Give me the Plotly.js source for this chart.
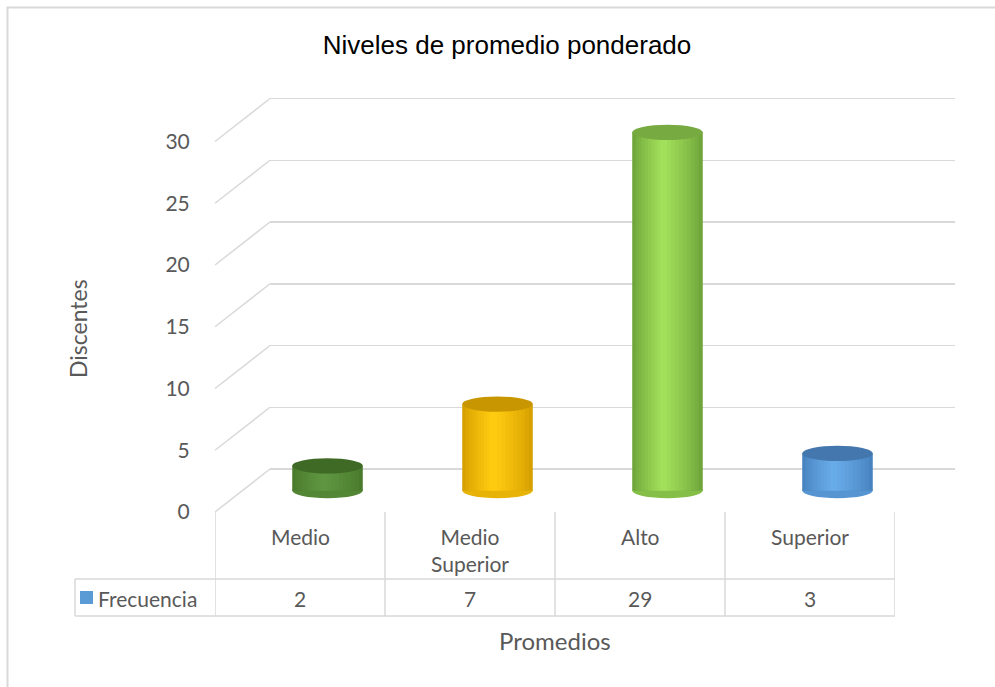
<!DOCTYPE html>
<html>
<head>
<meta charset="utf-8">
<script src="https://cdn.plot.ly/plotly-3.0.1.min.js"></script>
<style>html,body{margin:0;padding:0;background:#fff;}#chart{width:995px;height:687px;}</style>
</head>
<body>
<div id="chart"></div>
<script>
// ---- data ----
const categories = ['Medio', 'Medio Superior', 'Alto', 'Superior'];
const categoryLabels = ['Medio', 'Medio<br>Superior', 'Alto', 'Superior'];
const frecuencia = [2, 7, 29, 3];
const yTicks = [0, 5, 10, 15, 20, 25, 30];
const seriesName = 'Frecuencia';
const chartTitle = 'Niveles de promedio ponderado';
const xTitle = 'Promedios';
const yTitle = 'Discentes';

// ---- styles ----
const edgeColors = ['#4a7a2b', '#d6a000', '#6fa53a', '#4783bf'];
const lightColors = ['#5f9541', '#ffcb10', '#a2df5a', '#68abe9'];
const topColors = ['#3f6a25', '#c89600', '#77aa40', '#4377ad'];
const legendColor = '#5b9bd5';
const textColor = '#595959';
const gridColor = '#d9d9d9';
const FONT = 'Lato, "Open Sans", sans-serif';

// ---- geometry (pixels) ----
const W = 995, H = 687;
const S = 12.35;              // px per unit
const FRONT = {x0: 215, x1: 895, y0: 512};
const BACK = {x0: 270, x1: 955, y0: 469};
const MID = {x0: 242.5, x1: 922.5, y0: 490.5};
const RANGE = [-1, 31];
const fx = px => px / W;
const fy = py => 1 - py / H;
const ydom = p => [fy(p.y0 - RANGE[0] * S), fy(p.y0 - RANGE[1] * S)];
const xdom = p => [fx(p.x0), fx(p.x1)];
const pyOf = (p, v) => p.y0 - v * S;

// ---- helpers ----
function hex2rgb(h){return [1,3,5].map(i=>parseInt(h.substr(i,2),16));}
function mix(a,b,t){const A=hex2rgb(a),B=hex2rgb(b);return 'rgb('+A.map((v,i)=>Math.round(v+(B[i]-v)*t)).join(',')+')';}

const BW = 0.415;
const L0 = -BW/2, R0 = BW/2, HL = -0.025;
const N = 10;
const traces = [];
traces.push({type:'scatter', x:[], y:[], xaxis:'x', yaxis:'y', showlegend:false, hoverinfo:'skip'});
for (let i = 0; i < N; i++) {
  const L = L0 + (HL - L0) * i / N;
  const R = R0 - (R0 - HL) * i / N;
  const t = Math.pow(i / (N - 1), 0.8);
  traces.push({
    type:'bar', x: categories, y: frecuencia, xaxis:'x2', yaxis:'y2',
    width: R - L, offset: L,
    marker:{color: categories.map((c,k)=>mix(edgeColors[k], lightColors[k], t)), line:{width:0}},
    showlegend:false, hoverinfo: i===0 ? 'x+y' : 'skip', name: seriesName
  });
}
traces.push({type:'scatter', x:[], y:[], xaxis:'x3', yaxis:'y3', showlegend:false, hoverinfo:'skip'});

const shapes = [];
// outer chart border
shapes.push({type:'rect', xref:'paper', yref:'paper', x0:fx(7.5), x1:fx(1100), y0:fy(800), y1:fy(7.5), line:{color:gridColor, width:2}, fillcolor:'rgba(0,0,0,0)', layer:'below'});
// side wall diagonals
yTicks.forEach(v => {
  shapes.push({type:'line', xref:'paper', yref:'paper', x0:fx(FRONT.x0), y0:fy(pyOf(FRONT, v)), x1:fx(BACK.x0), y1:fy(pyOf(BACK, v)), line:{color:gridColor, width:1.5}, layer:'below'});
});
// cylinder ends
const E = 0.62;
frecuencia.forEach((v, k) => {
  shapes.push({type:'circle', xref:'x2', yref:'y2', x0:k+L0, x1:k+R0, y0:-E, y1:E, fillcolor:mix(edgeColors[k], lightColors[k], 0.45), line:{width:0}, layer:'below'});
  shapes.push({type:'circle', xref:'x2', yref:'y2', x0:k+L0, x1:k+R0, y0:v-E, y1:v+E, fillcolor:topColors[k], line:{width:0}, layer:'above'});
});
// data table
const tTop = 512, tRow = 579, tBot = 616, tLeft = 75;
for (let i = 0; i <= categories.length; i++) {
  shapes.push({type:'line', xref:'x3', yref:'paper', x0:i-0.5, x1:i-0.5, y0:fy(tTop), y1:fy(tBot), line:{color:gridColor, width:1.5}});
}
[tRow, tBot].forEach(py => shapes.push({type:'line', xref:'paper', yref:'paper', x0:fx(tLeft), x1:fx(FRONT.x1), y0:fy(py), y1:fy(py), line:{color:gridColor, width:1.5}}));
shapes.push({type:'line', xref:'paper', yref:'paper', x0:fx(tLeft), x1:fx(tLeft), y0:fy(tRow), y1:fy(tBot), line:{color:gridColor, width:1.5}});
shapes.push({type:'rect', xref:'paper', yref:'paper', x0:fx(80), x1:fx(93), y0:fy(604), y1:fy(591), fillcolor:legendColor, line:{width:0}});

const annotations = [];
categoryLabels.forEach((c, i) => annotations.push({xref:'x3', yref:'paper', x:i, y:fy(522), text:c, showarrow:false, yanchor:'top', xanchor:'center', font:{family:FONT, size:21, color:textColor}}));
frecuencia.forEach((v, i) => annotations.push({xref:'x3', yref:'paper', x:i, y:fy(598), text:String(v), showarrow:false, yanchor:'middle', font:{family:FONT, size:21, color:textColor}}));
annotations.push({xref:'paper', yref:'paper', x:fx(96), y:fy(598), text:seriesName, showarrow:false, xanchor:'left', yanchor:'middle', font:{family:FONT, size:21, color:textColor}});
annotations.push({xref:'paper', yref:'paper', x:fx(555), y:fy(640), text:xTitle, showarrow:false, xanchor:'center', yanchor:'middle', font:{family:FONT, size:24, color:textColor}});
annotations.push({xref:'paper', yref:'paper', x:fx(78), y:fy(329), text:yTitle, showarrow:false, textangle:-90, xanchor:'center', yanchor:'middle', font:{family:FONT, size:23, color:textColor}});

const hidden = {showgrid:false, zeroline:false, showline:false, showticklabels:false, ticks:'', fixedrange:true};
const layout = {
  width: W, height: H,
  margin:{l:0, r:0, t:0, b:0, pad:0},
  paper_bgcolor:'#ffffff', plot_bgcolor:'rgba(0,0,0,0)',
  showlegend:false, barmode:'overlay',
  title:{text:chartTitle, x:fx(507), xanchor:'center', y:fy(45), yanchor:'middle', font:{family:'"Liberation Sans", Arial, sans-serif', size:26, color:'#000000'}},
  xaxis: Object.assign({}, hidden, {domain:xdom(BACK), range:[0,1], anchor:'y'}),
  yaxis: Object.assign({}, hidden, {domain:ydom(BACK), range:RANGE, anchor:'x', showgrid:true, gridcolor:gridColor, gridwidth:1.5, tickvals:yTicks}),
  xaxis2: Object.assign({}, hidden, {domain:xdom(MID), range:[-0.5, 3.5], type:'category', anchor:'y2'}),
  yaxis2: Object.assign({}, hidden, {domain:ydom(MID), range:RANGE, anchor:'x2'}),
  xaxis3: Object.assign({}, hidden, {domain:xdom(FRONT), range:[-0.5, 3.5], anchor:'y3'}),
  yaxis3: Object.assign({}, hidden, {domain:ydom(FRONT), range:RANGE, anchor:'x3', showticklabels:true, tickvals:yTicks, ticks:'outside', ticklen:20, tickcolor:'rgba(0,0,0,0)', tickfont:{family:FONT, size:21, color:textColor}}),
  shapes: shapes,
  annotations: annotations
};
Plotly.newPlot('chart', traces, layout, {displayModeBar:false, staticPlot:true});
</script>
</body>
</html>
